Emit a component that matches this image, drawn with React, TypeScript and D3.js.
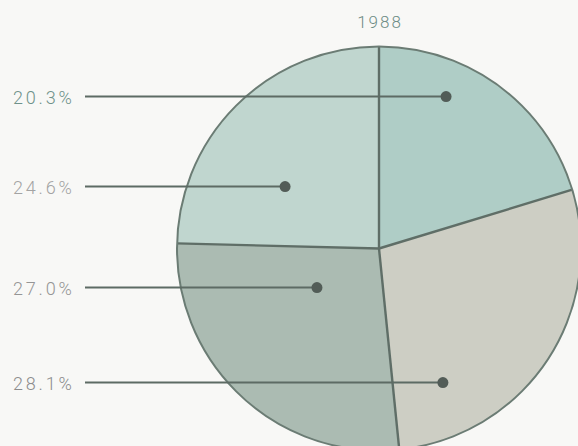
import React from "react";
import * as d3 from "d3";

const title = "1988";
const categories = ["A", "B", "C", "D"];
const shares = [20.3, 28.1, 27.0, 24.6];
const labels = ["20.3%", "28.1%", "27.0%", "24.6%"];
const sliceColors = ["#afcdc6", "#cdcec4", "#abbbb2", "#c0d6cf"];
const labelColors = ["#6f928a", "#8c8c8c", "#959595", "#a3a3a3"];
// leader dot placement inside each slice: fraction across the slice angle, fraction of radius
const dotAngleFrac = [0.326, 0.805, 0.654, 0.361];
const dotRadiusFrac = [0.822, 0.735, 0.363, 0.557];

const W = 578;
const H = 446;
const cx = 379;
const cy = 248.5;
const R = 202;
const lineStartX = 85;
const labelX = 13;

export default function App() {
  const pie = d3.pie<number>().sort(null).value((d) => d);
  const arcs = pie(shares);
  const arc = d3.arc<d3.PieArcDatum<number>>().innerRadius(0).outerRadius(R);

  const dots = arcs.map((a, i) => {
    const ang = a.startAngle + (a.endAngle - a.startAngle) * dotAngleFrac[i];
    const r = R * dotRadiusFrac[i];
    return { x: cx + r * Math.sin(ang), y: cy - r * Math.cos(ang) };
  });

  return (
    <svg
      width={W}
      height={H}
      style={{ position: "absolute", left: 0, top: 0, background: "#f8f8f6" }}
    >
      <rect x={0} y={0} width={W} height={H} fill="#f8f8f6" />
      <text
        x={380}
        y={28}
        textAnchor="middle"
        fontFamily="Roboto, 'Liberation Sans', sans-serif"
        fontWeight={300}
        fontSize={17}
        letterSpacing={2}
        fill="#6d8c85"
      >
        {title}
      </text>
      <g transform={`translate(${cx},${cy})`}>
        {arcs.map((a, i) => (
          <path key={categories[i]} d={arc(a) || ""} fill={sliceColors[i]} stroke="none" />
        ))}
        {arcs.map((a, i) => (
          <line
            key={"r" + i}
            x1={0}
            y1={0}
            x2={R * Math.sin(a.startAngle)}
            y2={-R * Math.cos(a.startAngle)}
            stroke="#5f6e67"
            strokeWidth={2.4}
          />
        ))}
        <circle r={R} fill="none" stroke="#6b7c74" strokeWidth={2} />
      </g>
      {dots.map((d, i) => (
        <g key={"l" + i}>
          <line
            x1={lineStartX}
            y1={d.y}
            x2={d.x}
            y2={d.y}
            stroke="#5d6b64"
            strokeWidth={2}
          />
          <circle cx={d.x} cy={d.y} r={5.5} fill="#525c57" />
          <text
            x={labelX}
            y={d.y + 7}
            fontFamily="Roboto, 'Liberation Sans', sans-serif"
            fontWeight={300}
            fontSize={18}
            letterSpacing={2.8}
            fill={labelColors[i]}
          >
            {labels[i]}
          </text>
        </g>
      ))}
    </svg>
  );
}
